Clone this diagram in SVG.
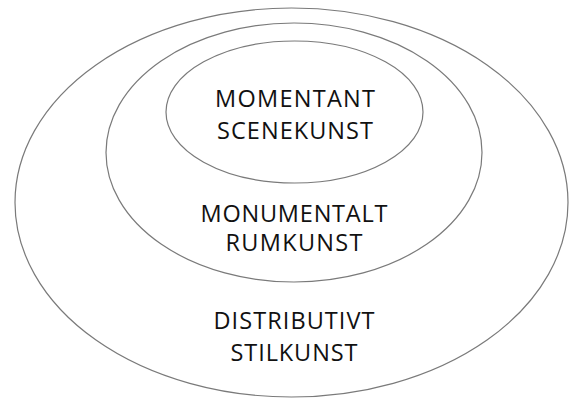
<svg xmlns="http://www.w3.org/2000/svg" width="569" height="398" viewBox="0 0 569 398">
  <style>
    .ring { fill: none; stroke: #7a7a7a; stroke-width: 1.2; }
    .lbl { font-family: "Open Sans", "DejaVu Sans", sans-serif; font-size: 23.5px; fill: #111111; text-anchor: middle; }
  </style>
  <rect width="569" height="398" fill="#ffffff"/>
  <g id="outer">
    <ellipse class="ring" cx="291.5" cy="202.5" rx="276.5" ry="194.5"/>
    <text class="lbl" x="294" y="329" textLength="161" lengthAdjust="spacing">DISTRIBUTIVT</text>
    <text class="lbl" x="294" y="361" textLength="127" lengthAdjust="spacing">STILKUNST</text>
  </g>
  <g id="middle">
    <ellipse class="ring" cx="294" cy="152.5" rx="188" ry="129.5"/>
    <text class="lbl" x="294" y="222" textLength="187" lengthAdjust="spacing">MONUMENTALT</text>
    <text class="lbl" x="294" y="251" textLength="137" lengthAdjust="spacing">RUMKUNST</text>
  </g>
  <g id="inner">
    <ellipse class="ring" cx="294.5" cy="112" rx="128.5" ry="71"/>
    <text class="lbl" x="295" y="107" textLength="160" lengthAdjust="spacing">MOMENTANT</text>
    <text class="lbl" x="295" y="139" textLength="156" lengthAdjust="spacing">SCENEKUNST</text>
  </g>
  <g id="connectors"></g>
</svg>
